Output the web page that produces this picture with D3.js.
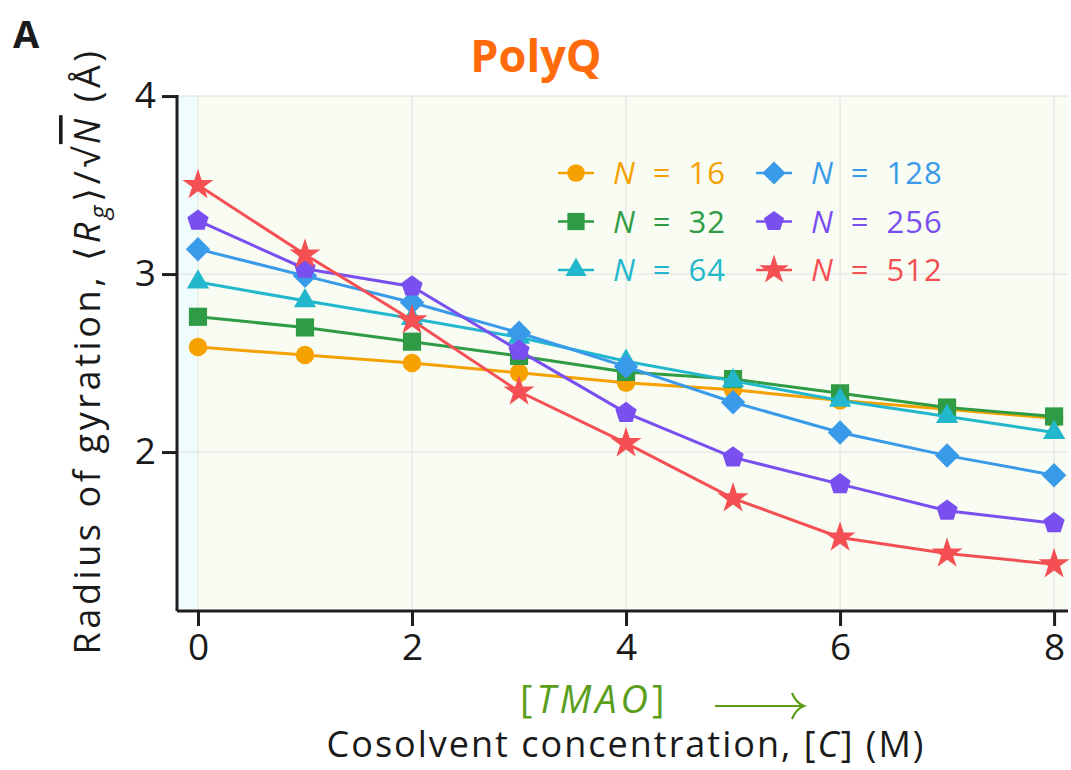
<!DOCTYPE html>
<html>
<head>
<meta charset="utf-8">
<script src="https://cdn.jsdelivr.net/npm/d3@7"></script>
<style>
  body { margin: 0; background: #fff; }
  svg text { font-family: "Open Sans", "DejaVu Sans", sans-serif; }
</style>
</head>
<body>
<svg id="chart" width="1071" height="770"></svg>
<script>
// TMAO concentration (M)
const concentrations = [0, 1, 2, 3, 4, 5, 6, 7, 8];

// <Rg>/sqrt(N) per chain length
const chainLengths = [16, 32, 64, 128, 256, 512];
const rg16  = [2.59, 2.545, 2.50, 2.445, 2.39, 2.35, 2.29, 2.24, 2.19];
const rg32  = [2.76, 2.70, 2.62, 2.54, 2.45, 2.41, 2.33, 2.25, 2.20];
const rg64  = [2.955, 2.85, 2.75, 2.645, 2.51, 2.40, 2.29, 2.20, 2.11];
const rg128 = [3.14, 2.99, 2.84, 2.67, 2.48, 2.28, 2.11, 1.98, 1.87];
const rg256 = [3.30, 3.03, 2.93, 2.57, 2.22, 1.97, 1.82, 1.67, 1.60];
const rg512 = [3.50, 3.11, 2.74, 2.34, 2.05, 1.74, 1.52, 1.43, 1.37];

const xTicks = [0, 2, 4, 6, 8];
const yTicks = [2, 3, 4];

const seriesColors  = ["#f5a100", "#2f9c45", "#22b7cd", "#3a9aea", "#7a4ff0", "#f45054"];
const seriesSymbols = ["circle", "square", "triangle", "diamond", "pentagon", "star"];
const seriesValues  = [rg16, rg32, rg64, rg128, rg256, rg512];

const svg = d3.select("#chart");
const L = 177, R = 1068, T = 95, B = 611;

const x = d3.scaleLinear().domain([-0.196, 8.13]).range([L, R]);
const y = d3.scaleLinear().domain([1.107, 4.006]).range([B, T]);

// plot background: pure-water strip (C < 0) and cosolvent region
svg.append("rect").attr("x", L).attr("y", T).attr("width", x(0) - L).attr("height", B - T).attr("fill", "#effbfc");
svg.append("rect").attr("x", x(0)).attr("y", T).attr("width", R - x(0)).attr("height", B - T).attr("fill", "#f8fcf2");

// grid
const grid = svg.append("g").attr("stroke", "#e4e6e2").attr("stroke-width", 1.2);
xTicks.forEach(t => grid.append("line").attr("x1", x(t)).attr("x2", x(t)).attr("y1", T).attr("y2", B));
yTicks.forEach(t => grid.append("line").attr("x1", L).attr("x2", R).attr("y1", y(t)).attr("y2", y(t)));

// axes
const xAxis = svg.append("g").attr("transform", `translate(0,${B})`)
  .call(d3.axisBottom(x).tickValues(xTicks).tickSize(15).tickPadding(8).tickFormat(d3.format("d")));
const yAxis = svg.append("g").attr("transform", `translate(${L},0)`)
  .call(d3.axisLeft(y).tickValues(yTicks).tickSize(15).tickPadding(6).tickFormat(d3.format("d")));
[xAxis, yAxis].forEach(g => {
  g.select(".domain").attr("stroke", "#1e1e1e").attr("stroke-width", 3);
  g.selectAll(".tick line").attr("stroke", "#1e1e1e").attr("stroke-width", 3);
  g.selectAll(".tick text").attr("font-size", 37).attr("fill", "#1a1a1a")
    .style("font-family", "'Open Sans', sans-serif");
});
xAxis.select(".domain").attr("d", `M${L},0H${R}`);
yAxis.select(".domain").attr("d", `M0,${B}V${T}`);

// custom marker shapes
function regularPolygon(n, rot) {
  return {
    draw(ctx, size) {
      const r = Math.sqrt(size);
      for (let i = 0; i < n; i++) {
        const a = rot + i * 2 * Math.PI / n;
        const px = r * Math.sin(a), py = -r * Math.cos(a);
        if (i === 0) ctx.moveTo(px, py); else ctx.lineTo(px, py);
      }
      ctx.closePath();
    }
  };
}
const shapeTypes = {
  circle:   { type: d3.symbolCircle, size: 270 },
  square:   { type: regularPolygon(4, Math.PI / 4), size: 165 },
  triangle: { type: regularPolygon(3, 0), size: 165 },
  diamond:  { type: regularPolygon(4, 0), size: 150 },
  pentagon: { type: regularPolygon(5, 0), size: 125 },
  star:     { type: d3.symbolStar, size: 300 }
};
function symbolPath(name, scale = 1) {
  const s = shapeTypes[name];
  return d3.symbol().type(s.type).size(s.size * scale)();
}

// series
const line = d3.line().x((d, i) => x(concentrations[i])).y(d => y(d));
seriesValues.forEach((vals, k) => {
  const g = svg.append("g");
  g.append("path").attr("d", line(vals)).attr("fill", "none")
    .attr("stroke", seriesColors[k]).attr("stroke-width", 3);
  g.selectAll("path.m").data(vals).join("path").attr("class", "m")
    .attr("d", symbolPath(seriesSymbols[k]))
    .attr("transform", (d, i) => `translate(${x(concentrations[i])},${y(d)})`)
    .attr("fill", seriesColors[k]);
});

// legend
const legend = svg.append("g");
chainLengths.forEach((n, k) => {
  const col = Math.floor(k / 3), row = k % 3;
  const lx = 558 + col * 198, ly = 173 + row * 48.5;
  const c = seriesColors[k];
  legend.append("line").attr("x1", lx).attr("x2", lx + 36).attr("y1", ly).attr("y2", ly)
    .attr("stroke", c).attr("stroke-width", 2.5);
  legend.append("path").attr("d", symbolPath(seriesSymbols[k], 0.9))
    .attr("transform", `translate(${lx + 18},${ly})`).attr("fill", c);
  const t = legend.append("text").attr("x", lx + 55).attr("y", ly + 11)
    .attr("font-size", 31).attr("fill", c);
  t.append("tspan").attr("font-style", "italic").text("N");
  t.append("tspan").attr("dx", 18).text("=");
  t.append("tspan").attr("dx", 18).attr("letter-spacing", 1).text(n);
});

// title and panel letter
svg.append("text").attr("x", 536).attr("y", 72).attr("text-anchor", "middle")
  .attr("font-size", 45).attr("font-weight", "bold").attr("fill", "#ff6a0a").text("PolyQ");
svg.append("text").attr("x", 13).attr("y", 48)
  .attr("font-size", 38).attr("font-weight", "bold").attr("fill", "#1a1a1a").text("A");

// x-axis labels
const tm = svg.append("text").attr("x", 520).attr("y", 713).attr("font-size", 38)
  .attr("letter-spacing", 4).attr("fill", "#5a9e1c");
tm.append("tspan").text("[");
tm.append("tspan").attr("font-style", "italic").text("TMAO");
tm.append("tspan").text("]");
svg.append("path").attr("d", "M715,706H802").attr("stroke", "#5a9e1c").attr("stroke-width", 2.2).attr("fill", "none");
svg.append("path").attr("d", "M792,693Q796,703 804,706Q796,709 792,719").attr("stroke", "#5a9e1c")
  .attr("stroke-width", 2.2).attr("fill", "none");

const xl = svg.append("text").attr("x", 626).attr("y", 757).attr("text-anchor", "middle")
  .attr("font-size", 36).attr("letter-spacing", 2).attr("fill", "#1a1a1a");
xl.append("tspan").text("Cosolvent concentration, [");
xl.append("tspan").attr("font-style", "italic").text("C");
xl.append("tspan").text("] (M)");

// y-axis label
const yl = svg.append("text").attr("transform", "translate(100,351) rotate(-90)")
  .attr("text-anchor", "middle").attr("font-size", 36).attr("letter-spacing", 3.6).attr("fill", "#1a1a1a");
yl.append("tspan").text("Radius of gyration, \u27E8");
yl.append("tspan").attr("font-style", "italic").text("R");
yl.append("tspan").attr("font-style", "italic").attr("font-size", 26).attr("dy", 8).text("g");
yl.append("tspan").attr("dy", -8).text("\u27E9/\u221A");
yl.append("tspan").attr("font-style", "italic").style("text-decoration", "overline").text("N");
yl.append("tspan").text(" (\u00C5)");
</script>
</body>
</html>
